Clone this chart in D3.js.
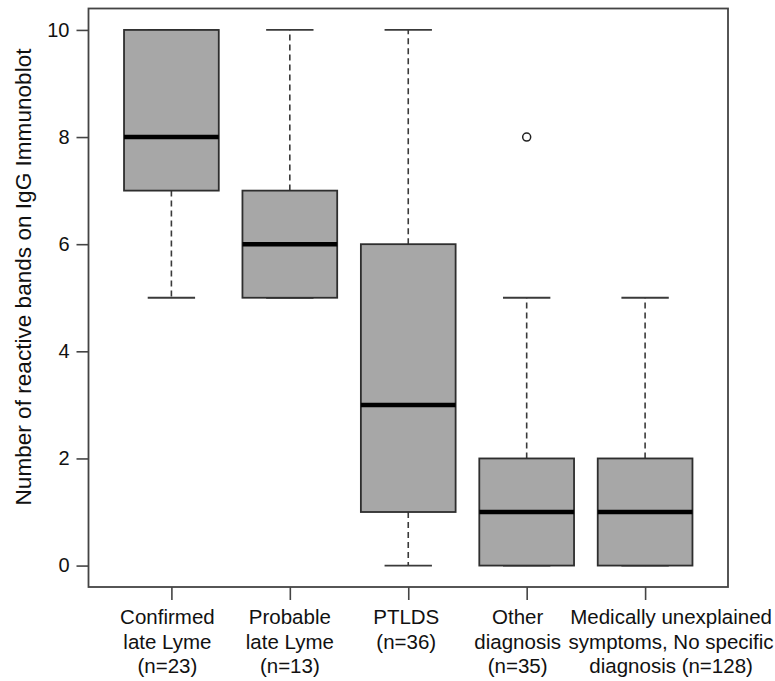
<!DOCTYPE html>
<html lang="en">
<head>
    <meta charset="UTF-8">
    <title>IgG Immunoblot bands</title>
    <script src="https://d3js.org/d3.v7.min.js"></script>
    <style>
        body { margin: 0; background: #fff; }
        text { font-family: "Liberation Sans", Arial, sans-serif; fill: #111; }
    </style>
</head>
<body>
    <div id="chart"></div>
    <script>
        // data
        const groups = [
            ["Confirmed", "late Lyme", "(n=23)"],
            ["Probable", "late Lyme", "(n=13)"],
            ["PTLDS", "(n=36)"],
            ["Other", "diagnosis", "(n=35)"],
            ["Medically unexplained", "symptoms, No specific", "diagnosis (n=128)"]
        ];
        const lowWhisker = [5, 5, 0, 0, 0];
        const q1 = [7, 5, 1, 0, 0];
        const median = [8, 6, 3, 1, 1];
        const q3 = [10, 7, 6, 2, 2];
        const highWhisker = [10, 10, 10, 5, 5];
        const outliers = [[], [], [], [8], []];
        const yTicks = [0, 2, 4, 6, 8, 10];
        const yLabel = "Number of reactive bands on IgG Immunoblot";

        // horizontal nudges of the category labels (px), as in the original figure
        const labelShift = [-4, 0, -2, -9, 26];

        const W = 775, H = 681;
        const svg = d3.select("#chart").append("svg")
            .attr("width", W)
            .attr("height", H);

        // R style: 4% extension of the ranges
        const x = d3.scaleLinear().domain([0.3, 5.7]).range([88.5, 728]);
        const y = d3.scaleLinear().domain([-0.4, 10.4]).range([587, 8.5]);

        const step = x(2) - x(1);
        const boxW = step * 0.8;
        const lineCol = "#3a3a3a";

        const data = groups.map((g, i) => ({
            pos: i + 1,
            lo: lowWhisker[i], q1: q1[i], med: median[i], q3: q3[i], hi: highWhisker[i],
            out: outliers[i]
        }));

        const box = svg.selectAll(".box")
            .data(data)
            .enter().append("g")
            .attr("class", "box");

        // whiskers (dashed)
        box.append("line")
            .attr("x1", d => x(d.pos)).attr("x2", d => x(d.pos))
            .attr("y1", d => y(d.q3)).attr("y2", d => y(d.hi))
            .attr("stroke", lineCol).attr("stroke-width", 1.6)
            .attr("stroke-dasharray", "6,4");
        box.append("line")
            .attr("x1", d => x(d.pos)).attr("x2", d => x(d.pos))
            .attr("y1", d => y(d.q1)).attr("y2", d => y(d.lo))
            .attr("stroke", lineCol).attr("stroke-width", 1.6)
            .attr("stroke-dasharray", "6,4");

        // whisker caps
        box.append("line")
            .attr("x1", d => x(d.pos) - boxW / 4).attr("x2", d => x(d.pos) + boxW / 4)
            .attr("y1", d => y(d.hi)).attr("y2", d => y(d.hi))
            .attr("stroke", lineCol).attr("stroke-width", 1.8);
        box.append("line")
            .attr("x1", d => x(d.pos) - boxW / 4).attr("x2", d => x(d.pos) + boxW / 4)
            .attr("y1", d => y(d.lo)).attr("y2", d => y(d.lo))
            .attr("stroke", lineCol).attr("stroke-width", 1.8);

        // boxes
        box.append("rect")
            .attr("x", d => x(d.pos) - boxW / 2)
            .attr("width", boxW)
            .attr("y", d => y(d.q3))
            .attr("height", d => y(d.q1) - y(d.q3))
            .attr("fill", "#a7a7a7")
            .attr("stroke", "#2e2e2e")
            .attr("stroke-width", 1.8);

        // medians
        box.append("line")
            .attr("x1", d => x(d.pos) - boxW / 2).attr("x2", d => x(d.pos) + boxW / 2)
            .attr("y1", d => y(d.med)).attr("y2", d => y(d.med))
            .attr("stroke", "#000").attr("stroke-width", 4.5);

        // outliers
        box.selectAll(".out")
            .data(d => d.out.map(v => ({pos: d.pos, v: v})))
            .enter().append("circle")
            .attr("cx", d => x(d.pos))
            .attr("cy", d => y(d.v))
            .attr("r", 4)
            .attr("fill", "none")
            .attr("stroke", "#222")
            .attr("stroke-width", 1.5);

        // frame
        svg.append("rect")
            .attr("x", x(0.3)).attr("y", y(10.4))
            .attr("width", x(5.7) - x(0.3))
            .attr("height", y(-0.4) - y(10.4))
            .attr("fill", "none")
            .attr("stroke", "#444")
            .attr("stroke-width", 1.8);

        // y axis
        const yAxis = svg.append("g")
            .attr("transform", "translate(" + x(0.3) + ",0)")
            .call(d3.axisLeft(y).tickValues(yTicks).tickSize(12).tickPadding(7).tickFormat(d3.format("d")));
        yAxis.select(".domain").remove();
        yAxis.selectAll("line").attr("stroke", "#444").attr("stroke-width", 1.6);
        yAxis.selectAll("text").style("font-size", "20px").attr("fill", "#111");

        // x axis
        const xAxis = svg.append("g")
            .attr("transform", "translate(0," + y(-0.4) + ")")
            .call(d3.axisBottom(x).tickValues(data.map(d => d.pos)).tickSize(13).tickFormat(""));
        xAxis.select(".domain").remove();
        xAxis.selectAll("line").attr("stroke", "#444").attr("stroke-width", 1.6);

        const catLabels = svg.selectAll(".cat")
            .data(data)
            .enter().append("text")
            .attr("class", "cat")
            .attr("text-anchor", "middle")
            .style("font-size", "20.5px")
            .attr("transform", (d, i) => "translate(" + (x(d.pos) + labelShift[i]) + ",624)");
        catLabels.each(function(d, i) {
            const t = d3.select(this);
            groups[i].forEach((line, k) => {
                t.append("tspan").attr("x", 0).attr("y", k * 24.5).text(line);
            });
        });

        // y axis title
        svg.append("text")
            .attr("transform", "translate(31," + 277 + ") rotate(-90)")
            .attr("text-anchor", "middle")
            .attr("textLength", 457)
            .attr("lengthAdjust", "spacingAndGlyphs")
            .style("font-size", "22px")
            .text(yLabel);
    </script>
</body>
</html>
